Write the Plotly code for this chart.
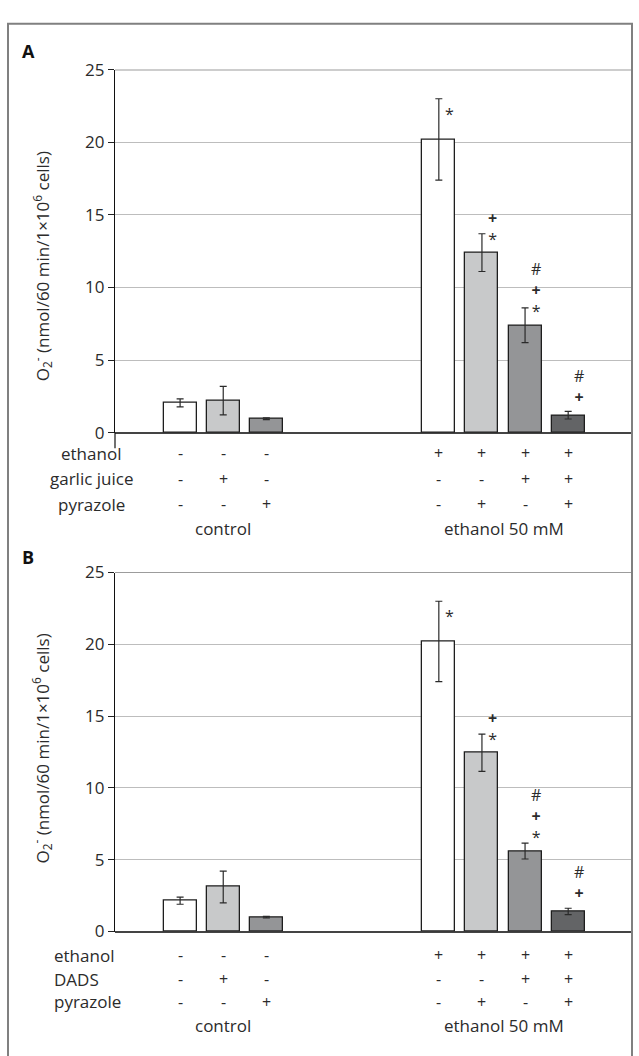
import plotly.graph_objects as go

# Treatment groups drawn as bars (slot positions along the x axis)
bar_slots = [0, 1, 2, 6, 7, 8, 9]
fills = ["#ffffff", "#c8c9ca", "#949597", "#ffffff", "#c8c9ca", "#949597", "#636466"]

# Panel A: superoxide production, garlic juice series
values_a = [2.05, 2.2, 0.95, 20.2, 12.4, 7.4, 1.2]
errors_a = [0.28, 0.98, 0.06, 2.8, 1.3, 1.2, 0.26]
sig_a = ["", "", "", "*", "*+", "*+#", "+#"]

# Panel B: superoxide production, DADS series
values_b = [2.15, 3.1, 1.0, 20.2, 12.45, 5.6, 1.4]
errors_b = [0.25, 1.1, 0.05, 2.8, 1.3, 0.55, 0.22]
sig_b = ["", "", "", "*", "*+", "*+#", "+#"]

# Treatment table under each panel
ethanol_row = ["-", "-", "-", "+", "+", "+", "+"]
agent_row = ["-", "+", "-", "-", "-", "+", "+"]
pyrazole_row = ["-", "-", "+", "-", "+", "-", "+"]
row_names_a = ["ethanol", "garlic juice", "pyrazole"]
row_names_b = ["ethanol", "DADS", "pyrazole"]
group_names = ["control", "ethanol 50 mM"]
group_slots = [1, 7.5]

y_ticks = [0, 5, 10, 15, 20, 25]

W, H = 639, 1056
FONT = "Open Sans"
TXT = "#2b2b2b"


def px(x):
    return x / W


def py(y):
    return 1 - y / H


def mark_html(m):
    # the plus sign is set heavier than the asterisk and hash
    return "<b>+</b>" if m == "+" else m


fig = go.Figure()

panels = [
    dict(vals=values_a, errs=errors_a, sig=sig_a, rows=row_names_a, letter="A",
         xa="x", ya="y", top=59, zero=430, title_y=260, row_y=[451, 477, 503], grp_y=528,
         letter_y=40, label_x=91, label_anchor="center", ext=True),
    dict(vals=values_b, errs=errors_b, sig=sig_b, rows=row_names_b, letter="B",
         xa="x2", ya="y2", top=573, zero=940, title_y=753, row_y=[964, 989, 1012], grp_y=1036,
         letter_y=557, label_x=52, label_anchor="left", ext=False),
]

annotations = []
shapes = []

for p in panels:
    fig.add_trace(go.Bar(
        x=bar_slots, y=p["vals"], width=0.765,
        marker=dict(color=fills, line=dict(color="#1e1e1e", width=1.3)),
        error_y=dict(type="data", array=p["errs"], visible=True,
                     color="#2a2a2a", thickness=1.2, width=3.5),
        xaxis=p["xa"], yaxis=p["ya"], showlegend=False, hoverinfo="skip",
    ))

    # significance symbols stacked above each bar (first symbol lowest)
    for slot, val, marks in zip(bar_slots, p["vals"], p["sig"]):
        if not marks:
            continue
        if marks == "*":
            lift = 12
        elif marks[0] == "+":
            lift = 5
        else:
            lift = 1
        annotations.append(dict(
            x=slot, y=val, xref=p["xa"], yref=p["ya"],
            text="<br>".join(mark_html(m) for m in reversed(list(marks))),
            showarrow=False, xshift=11, yshift=lift,
            font=dict(family=FONT, size=16, color=TXT),
            xanchor="center", yanchor="bottom", align="center",
        ))

    # treatment rows
    for ry, name, row in zip(p["row_y"], p["rows"], [ethanol_row, agent_row, pyrazole_row]):
        annotations.append(dict(
            x=px(p["label_x"]), y=py(ry), xref="paper", yref="paper", text=name,
            showarrow=False, xanchor=p["label_anchor"], yanchor="middle",
            font=dict(family=FONT, size=17, color=TXT),
        ))
        for slot, s in zip(bar_slots, row):
            annotations.append(dict(
                x=slot, y=py(ry), xref=p["xa"], yref="paper", text=s,
                showarrow=False, xanchor="center", yanchor="middle",
                font=dict(family=FONT, size=16, color=TXT),
            ))
    for gs, gname in zip(group_slots, group_names):
        annotations.append(dict(
            x=gs, y=py(p["grp_y"]), xref=p["xa"], yref="paper", text=gname,
            showarrow=False, xanchor="center", yanchor="middle",
            font=dict(family=FONT, size=17, color=TXT),
        ))

    # panel letter
    annotations.append(dict(
        x=px(20), y=py(p["letter_y"]), xref="paper", yref="paper",
        text="<b>%s</b>" % p["letter"], showarrow=False, xanchor="left",
        yanchor="middle", font=dict(family=FONT, size=18, color="#111"),
    ))

    # rotated y-axis title
    annotations.append(dict(
        x=px(42), y=py(p["title_y"]), xref="paper", yref="paper",
        text="O<sub>2</sub><sup>-</sup> (nmol/60 min/1×10<sup>6</sup> cells)",
        textangle=-90, showarrow=False, xanchor="center", yanchor="middle",
        font=dict(family=FONT, size=17, color=TXT),
    ))

    # darker top edge of the plotting area at the axis maximum
    shapes.append(dict(type="line", xref=p["xa"] + " domain", yref=p["ya"],
                       x0=0, x1=1, y0=25, y1=25,
                       line=dict(color="#3a3a3a", width=1.2)))
    if p["ext"]:
        # y axis line continues slightly below the baseline
        shapes.append(dict(type="line", xref="paper", yref="paper",
                           x0=px(115), x1=px(115), y0=py(p["zero"]), y1=py(p["zero"] + 16),
                           line=dict(color="#111", width=1.2)))

# outer frame around both panels
shapes.append(dict(type="rect", xref="paper", yref="paper",
                   x0=px(8), x1=px(632), y0=py(12), y1=-0.02,
                   line=dict(color="#808080", width=2), fillcolor="rgba(0,0,0,0)"))

xdom = [px(115), px(632)]
xrange_ = [-1.51, 10.48]
common_x = dict(domain=xdom, range=xrange_, showticklabels=False, showgrid=False,
                zeroline=False, showline=False, ticks="")
common_y = dict(range=[0, 25], tickvals=y_ticks, showgrid=True, gridcolor="#bdbdbd",
                gridwidth=1, zeroline=True, zerolinecolor="#444", zerolinewidth=1.5,
                showline=True, linecolor="#111", linewidth=1.2, ticks="outside",
                ticklen=6, tickcolor="#222", tickwidth=1,
                tickfont=dict(family=FONT, size=17, color=TXT))

fig.update_layout(
    width=W, height=H, margin=dict(l=0, r=0, t=0, b=0),
    paper_bgcolor="white", plot_bgcolor="white", bargap=0,
    xaxis=dict(**common_x, anchor="y"),
    yaxis=dict(**common_y, domain=[py(430), py(59)], anchor="x"),
    xaxis2=dict(**common_x, anchor="y2"),
    yaxis2=dict(**common_y, domain=[py(940), py(573)], anchor="x2"),
    annotations=annotations, shapes=shapes,
)

fig.write_html("out.html")
